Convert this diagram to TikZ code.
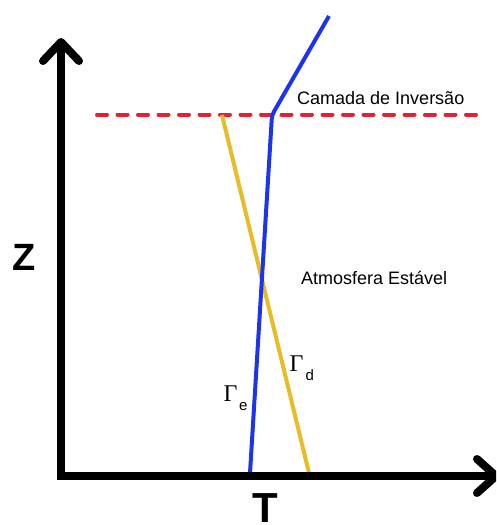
\documentclass[tikz,border=0pt]{standalone}
\usepackage{fontspec}
\setmainfont{Liberation Sans}
\newfontfamily\greekserif{Liberation Serif}
\usetikzlibrary{arrows.meta,positioning}
\usepackage{xcolor}
\definecolor{invred}{RGB}{228,32,52}
\definecolor{envblue}{RGB}{28,52,235}
\definecolor{dryyellow}{RGB}{232,188,38}

\begin{document}
\begin{tikzpicture}[
    x=1pt, y=-1pt,
    every node/.style={inner sep=0pt, anchor=base west},
    axis/.style={line width=8pt, line join=miter, {Straight Barb[length=19pt,width=36pt,line cap=round,line join=round]}-{Straight Barb[length=19pt,width=34pt,line cap=round,line join=round]}},
    profile/.style={line width=4pt},
    inversion/.style={line width=4pt, draw=invred, line cap=round, dash pattern=on 10pt off 10.5pt},
    textlabel/.style={font=\fontsize{18}{20}\selectfont},
    axislabel/.style={font=\fontsize{38}{40}\selectfont\bfseries},
    gammalabel/.style={font=\fontsize{24}{26}\selectfont\greekserif}
]
\useasboundingbox (0,0) rectangle (496,525);
\clip (0,0) rectangle (496,525);

% Points of the profiles
\coordinate (origin) at (61,476);
\coordinate (zend) at (61,38);
\coordinate (tend) at (500,476);
\coordinate (invwest) at (97,114.5);
\coordinate (inveast) at (483,114.5);
\coordinate (drytop) at (222,115);
\coordinate (drybottom) at (309,473);
\coordinate (envbottom) at (250,473);
\coordinate (envkink) at (272,115);
\coordinate (envtop) at (329,16);

% Inversion layer
\draw[inversion] (invwest) -- (inveast);

% Dry adiabatic and environmental lapse rates
\draw[profile, dryyellow] (drytop) -- (drybottom);
\draw[profile, envblue, rounded corners=4pt] (envbottom) -- (envkink) -- (envtop);

% Axes
\draw[axis] (zend) -- (origin) -- (tend);

% Labels
\node[axislabel] (zlabel) at (12,270) {Z};
\node[axislabel, font=\fontsize{42}{44}\selectfont\bfseries] (tlabel) at (252,522) {T};
\node[textlabel] (inversionlabel) at (297,104.5) {Camada de Inversão};
\node[textlabel] (stablelabel) at (301,284) {Atmosfera Estável};
\node[gammalabel] (gammae) at (223.5,401) {Γ\kern1.5pt\lower9pt\hbox{\fontsize{15}{15}\mdseries\rmfamily\selectfont e}};
\node[gammalabel] (gammad) at (289.5,371) {Γ\kern2pt\lower9pt\hbox{\fontsize{15}{15}\mdseries\rmfamily\selectfont d}};

\end{tikzpicture}
\end{document}
